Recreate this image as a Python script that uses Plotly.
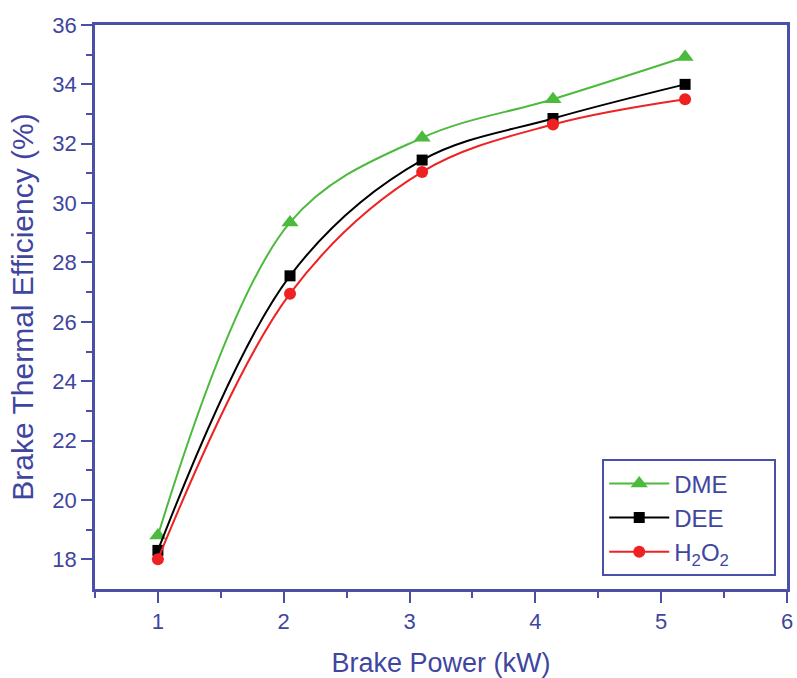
import plotly.graph_objects as go

power = [1.0, 2.05, 3.1, 4.14, 5.19]
dme = [18.8, 29.35, 32.2, 33.5, 34.92]
dee = [18.3, 27.55, 31.45, 32.85, 34.0]
h2o2 = [18.0, 26.95, 31.05, 32.65, 33.5]
names = ["DME", "DEE", "H<sub>2</sub>O<sub>2</sub>"]

axis_color = "#4a50a8"
text_color = "#3f46a0"
pad = "\u00a0" * 6

fig = go.Figure()
series = [
    (names[0], dme, "#4cba3c", "triangle-up", 15),
    (names[1], dee, "#000000", "square", 11),
    (names[2], h2o2, "#ee2222", "circle", 12),
]
for name, ys, col, sym, sz in series:
    fig.add_trace(go.Scatter(
        x=power, y=ys, name=name + pad, mode="lines+markers",
        line=dict(color=col, width=2, shape="spline", smoothing=1.0),
        marker=dict(symbol=sym, size=sz, color=col),
    ))

fig.update_layout(
    width=797, height=678,
    margin=dict(l=95, r=10, t=25, b=89),
    paper_bgcolor="white", plot_bgcolor="white",
    font=dict(family="Liberation Sans, Arial", color=text_color, size=22),
    showlegend=True,
    legend=dict(
        x=0.733, y=0.23, xanchor="left", yanchor="top",
        bordercolor=axis_color, borderwidth=2, bgcolor="white",
        font=dict(size=24, color=text_color),
        tracegroupgap=0, itemwidth=60,
    ),
)
fig.update_xaxes(
    range=[0.5, 6], tickvals=[1, 2, 3, 4, 5, 6],
    tickfont=dict(size=22, color=text_color),
    automargin=False,
    showgrid=False, zeroline=False,
    showline=True, linecolor=axis_color, linewidth=2.5, mirror=True,
    ticks="outside", ticklen=11, tickwidth=2, tickcolor=axis_color,
    minor=dict(tickvals=[0.5, 1.5, 2.5, 3.5, 4.5, 5.5], ticks="outside", ticklen=6, tickwidth=2, tickcolor=axis_color),
    title=dict(text="Brake Power (kW)", font=dict(size=27, color=text_color), standoff=20),
)
fig.update_yaxes(
    range=[17, 36], tickvals=[18, 20, 22, 24, 26, 28, 30, 32, 34, 36],
    tickfont=dict(size=22, color=text_color),
    automargin=False,
    showgrid=False, zeroline=False,
    showline=True, linecolor=axis_color, linewidth=2.5, mirror=True,
    ticks="outside", ticklen=11, tickwidth=2, tickcolor=axis_color,
    minor=dict(tickvals=[19, 21, 23, 25, 27, 29, 31, 33, 35], ticks="outside", ticklen=6, tickwidth=2, tickcolor=axis_color),
    title=dict(text="Brake Thermal Efficiency (%)", font=dict(size=30, color=text_color), standoff=10),
)

fig.write_html("out.html", config={"displayModeBar": False},
               post_script="document.body.style.margin='0';")
